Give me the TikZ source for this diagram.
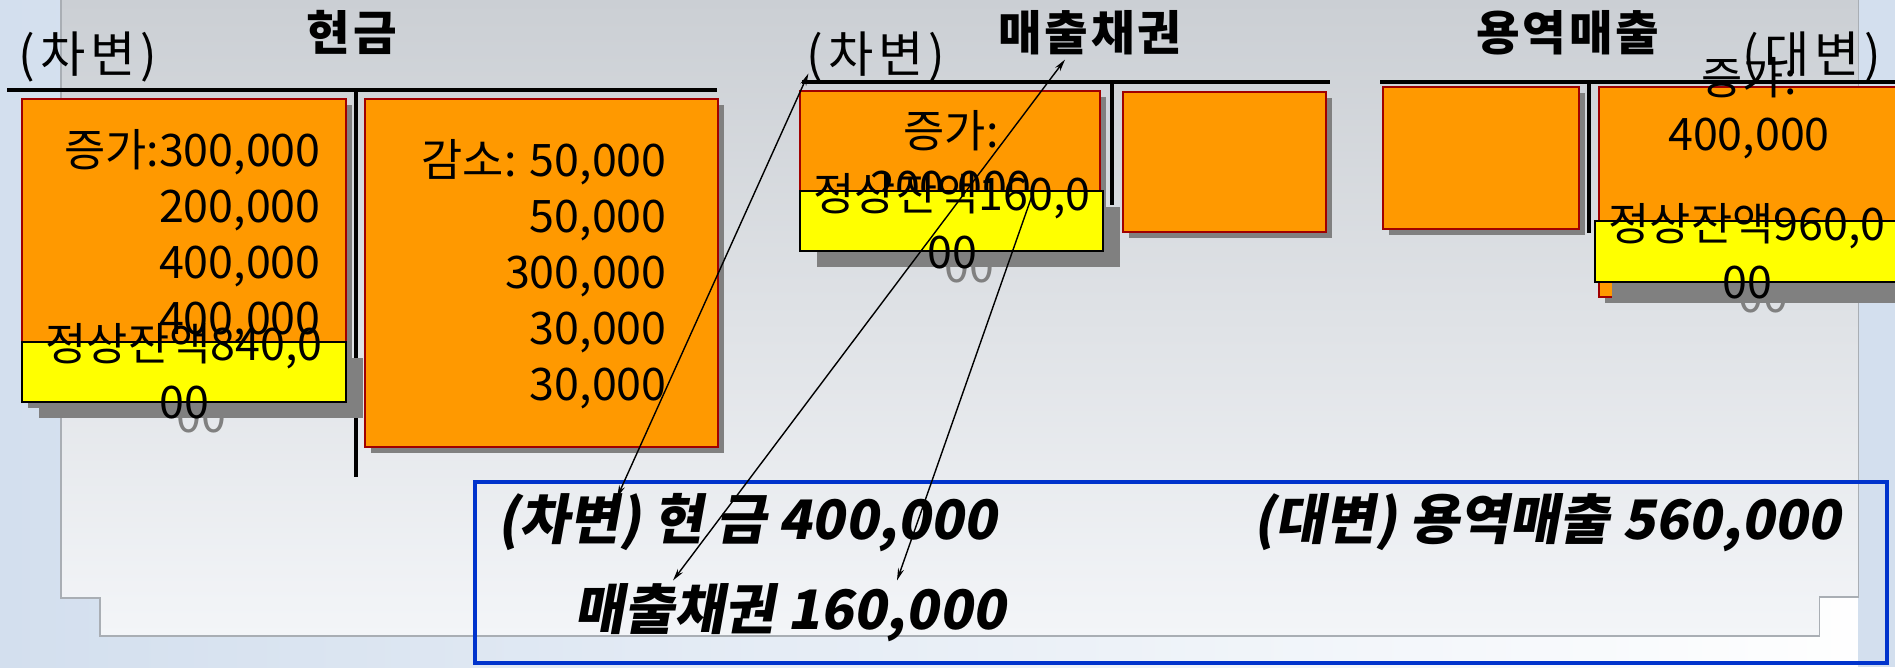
\documentclass[tikz,border=0pt]{standalone}
\usepackage{fontspec}
\setmainfont{Noto Sans CJK KR}
\newfontfamily\sidefont[LetterSpace=10]{Noto Sans CJK KR}
\newfontfamily\titlefont[LetterSpace=6]{Noto Sans CJK KR}
\newfontfamily\entryfont[FakeSlant=0.18]{Noto Sans CJK KR}
\usetikzlibrary{shadows,arrows.meta,calc}

\definecolor{boxorange}{HTML}{FF9900}
\definecolor{boxred}{HTML}{A00000}
\definecolor{balyellow}{HTML}{FFFF00}
\definecolor{shadowgray}{HTML}{808080}
\definecolor{entryblue}{HTML}{0033CC}
\definecolor{panelgray}{HTML}{CBCFD4}
\definecolor{panelwhite}{HTML}{F3F5F8}
\definecolor{edgeblue}{HTML}{D3DFEE}
\definecolor{framegray}{HTML}{A9AEB4}

\tikzset{
    acctbox/.style={draw=boxred, line width=1.1pt, fill=boxorange, inner sep=0pt,
        drop shadow={shadow xshift=3.4pt, shadow yshift=-3.4pt, fill=shadowgray, opacity=1}},
    balbox/.style={draw=black, line width=0.8pt, fill=balyellow, inner sep=0pt,
        drop shadow={shadow xshift=9.6pt, shadow yshift=-9pt, fill=shadowgray, opacity=1}},
    acctline/.style={line width=2.3pt},
    amount/.style={inner sep=0pt, align=right, font=\fontsize{25.5}{31.9}\selectfont},
    baltext/.style={inner sep=0pt, align=center, font=\fontsize{25.5}{33}\selectfont},
    baltextshd/.style={baltext, text=shadowgray},
    accttitle/.style={inner sep=0pt, font=\titlefont\bfseries\fontsize{27}{32}\selectfont},
    sidelabel/.style={inner sep=0pt, font=\sidefont\fontsize{28}{32}\selectfont},
    entrytext/.style={inner sep=0pt, font=\entryfont\bfseries\fontsize{31}{37}\selectfont},
    entrybox/.style={draw=entryblue, line width=2.6pt, inner sep=0pt},
    dualarrow/.style={line width=0.8pt, {Stealth[length=7pt,width=3.5pt]}-{Stealth[length=7pt,width=3.5pt]}},
    onearrow/.style={line width=0.8pt, -{Stealth[length=7pt,width=3.5pt]}}
}

\begin{document}
\begin{tikzpicture}[x=0.02cm, y=-0.02cm]
                \useasboundingbox (0,0) rectangle (1895,667);

                %Background
                \fill[left color=edgeblue, right color=white] (0,0) rectangle (1895,667);
                \fill[edgeblue] (1858,0) rectangle (1895,667);
                \fill[top color=panelgray, bottom color=panelwhite] (61,0) -- (61,598) -- (100,598) -- (100,636)
                    -- (1819,636) -- (1819,597) -- (1858,597) -- (1858,0) -- cycle;
                \draw[framegray, line width=0.6pt] (61,0) -- (61,598) -- (100,598) -- (100,636)
                    -- (1819,636) -- (1819,597) -- (1858,597) -- (1858,0);

                %Lines
                \draw[acctline] (7,90) -- (717,90);
                \draw[acctline] (356,90) -- (356,477);
                \draw[acctline] (802,82) -- (1330,82);
                \draw[acctline] (1112,82) -- (1112,205);
                \draw[acctline] (1380,82) -- (1895,82);
                \draw[acctline] (1589,82) -- (1589,233);

                %Cash
                \node[acctbox, minimum width=6.48cm, minimum height=6.06cm] (cashDr) at (184,250.5) {};
                \node[amount, anchor=east] (cashDrTxt) at (321,236) {증가:300,000\\200,000\\400,000\\400,000};
                \node[baltextshd] (cashBalShd) at (201,417) {00};
                \node[balbox, minimum width=6.48cm, minimum height=1.2cm] (cashBal) at (184,372) {};
                \node[baltext] (cashBalTxt) at (184,371.5) {정상잔액840,0\\00};
                \node[acctbox, minimum width=7.06cm, minimum height=6.96cm] (cashCr) at (541.5,273) {};
                \node[amount, anchor=east] (cashCrTxt) at (667,274.5) {감소: 50,000\\50,000\\300,000\\30,000\\30,000};
                \node[accttitle] (cashTitle) at (352,32) {현금};
                \node[sidelabel] (cashSide) at (88,57) {(차변)};

                %Receivables
                \node[acctbox, minimum width=6cm, minimum height=3.08cm] (arDr) at (950,168) {};
                \node[amount, align=center] (arDrTxt) at (951,161) {증가:\\200,000};
                \node[baltextshd] (arBalShd) at (969,267) {00};
                \node[balbox, minimum width=6.06cm, minimum height=1.2cm] (arBal) at (951.5,221) {};
                \node[baltext] (arBalTxt) at (952,221) {정상잔액160,0\\00};
                \node[acctbox, minimum width=4.06cm, minimum height=2.8cm] (arCr) at (1224.5,162) {};
                \node[accttitle] (arTitle) at (1090,33) {매출채권};
                \node[sidelabel] (arSide) at (876,57) {(차변)};

                %Revenue
                \node[acctbox, minimum width=3.92cm, minimum height=2.84cm] (revDr) at (1481,158) {};
                \node[acctbox, minimum width=6.32cm, minimum height=4.2cm] (revCr) at (1757,192) {};
                \node[accttitle] (revTitle) at (1568,33) {용역매출};
                \node[sidelabel] (revSide) at (1812,57) {(대변)};
                \node[amount, align=center] (revCrTxt) at (1749,108.5) {증가:\\400,000};
                \node[baltextshd] (revBalShd) at (1763,297) {00};
                \node[balbox, minimum width=6.4cm, minimum height=1.22cm] (revBal) at (1755,251.5) {};
                \node[baltext] (revBalTxt) at (1747,251) {정상잔액960,0\\00};

                %Entry
                \node[entrybox, minimum width=28.24cm, minimum height=3.62cm] (entry) at (1181,572.5) {};
                \node[entrytext, anchor=west] (drCash) at (497,523) {(차변) 현 금 400,000};
                \node[entrytext, anchor=east] (crRev) at (1841,523) {(대변) 용역매출 560,000};
                \node[entrytext, anchor=west] (drAR) at (574,613) {매출채권 160,000};

                %Arrows
                \draw[dualarrow] ($(drCash.north west)+(120,4)$) -- ($(arSide.south west)+(2,-9)$);
                \draw[dualarrow] ($(drAR.north west)+(99,-3)$) -- ($(arTitle.south)+(-25,4)$);
                \draw[onearrow] ($(arBal.north)+(81,4)$) -- ($(drAR.north west)+(323,-3)$);
            \end{tikzpicture}
\end{document}
